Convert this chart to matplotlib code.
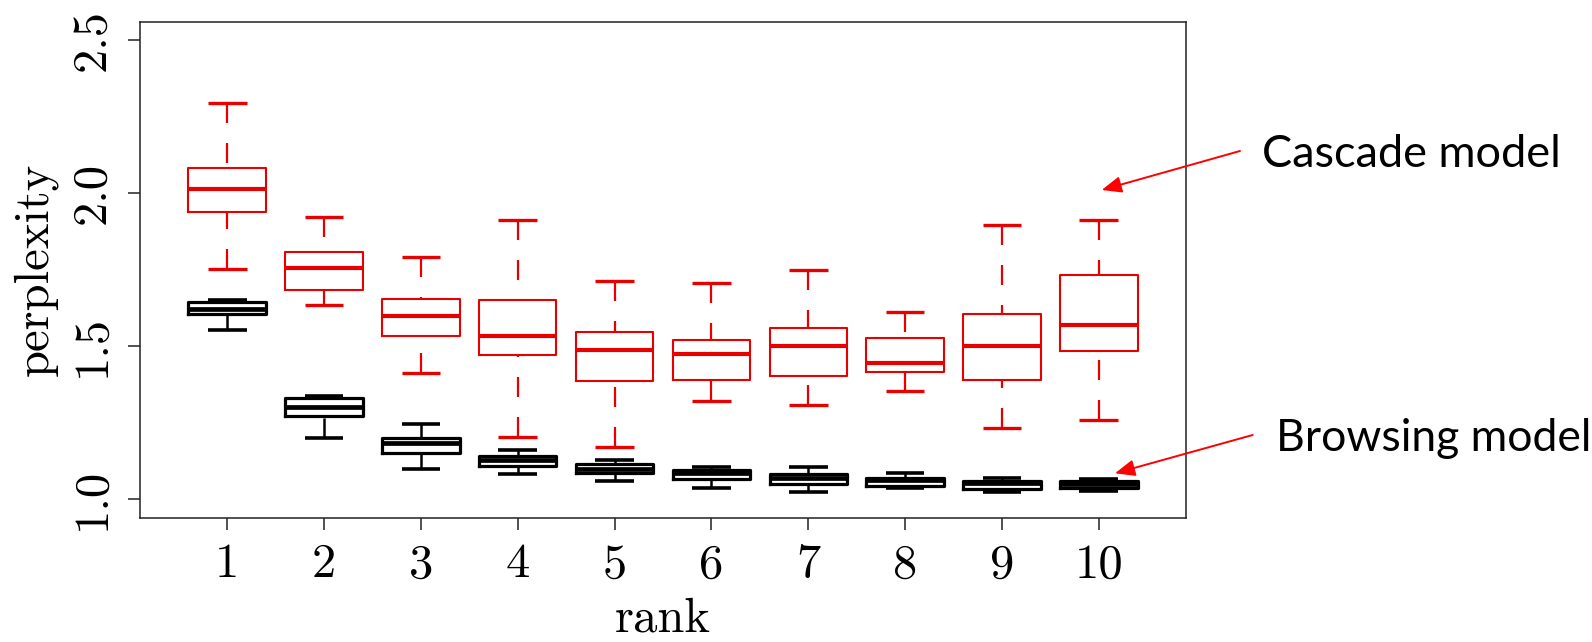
import matplotlib
matplotlib.use('Agg')
import matplotlib.pyplot as plt
from matplotlib.patches import FancyArrowPatch

plt.rcParams['lines.scale_dashes'] = False

ranks = [1, 2, 3, 4, 5, 6, 7, 8, 9, 10]
rank_labels = ['1', '2', '3', '4', '5', '6', '7', '8', '9', '10']
y_ticks = [1.0, 1.5, 2.0, 2.5]
y_tick_labels = ['1.0', '1.5', '2.0', '2.5']

# Cascade model (red boxes)
casc_whislo = [1.752, 1.636, 1.413, 1.204, 1.171, 1.322, 1.308, 1.352, 1.231, 1.259]
casc_q1 = [1.937, 1.682, 1.534, 1.470, 1.387, 1.390, 1.401, 1.417, 1.390, 1.485]
casc_med = [2.012, 1.754, 1.597, 1.534, 1.489, 1.473, 1.501, 1.445, 1.499, 1.569]
casc_q3 = [2.083, 1.808, 1.653, 1.652, 1.547, 1.521, 1.559, 1.527, 1.606, 1.732]
casc_whishi = [2.294, 1.921, 1.790, 1.911, 1.713, 1.708, 1.748, 1.613, 1.897, 1.911]

# Browsing model (black boxes)
brow_whislo = [1.552, 1.201, 1.098, 1.083, 1.059, 1.038, 1.024, 1.035, 1.024, 1.026]
brow_q1 = [1.606, 1.272, 1.152, 1.109, 1.086, 1.066, 1.051, 1.043, 1.033, 1.038]
brow_med = [1.622, 1.302, 1.185, 1.128, 1.100, 1.084, 1.068, 1.062, 1.053, 1.049]
brow_q3 = [1.644, 1.332, 1.199, 1.142, 1.114, 1.095, 1.081, 1.068, 1.060, 1.058]
brow_whishi = [1.651, 1.337, 1.244, 1.160, 1.128, 1.106, 1.104, 1.084, 1.070, 1.066]

W, H, DPI = 1592, 642, 100
fig = plt.figure(figsize=(W / DPI, H / DPI), dpi=DPI)
ax = fig.add_axes([140 / W, (H - 517.5) / H, (1186 - 140) / W, (517.5 - 21.8) / H])


def make_stats(lo, q1, med, q3, hi):
    return [dict(whislo=a, q1=b, med=c, q3=d, whishi=e, fliers=[])
            for a, b, c, d, e in zip(lo, q1, med, q3, hi)]


def draw(stats, color, box_lw, med_lw, whisk_lw, cap_lw):
    res = ax.bxp(stats, positions=ranks, widths=0.8, showfliers=False,
                 boxprops=dict(color=color, lw=box_lw),
                 medianprops=dict(color=color, lw=med_lw, solid_capstyle='butt'),
                 whiskerprops=dict(color=color, lw=whisk_lw, linestyle=(0, (14.4, 14.4))),
                 capprops=dict(color=color, lw=cap_lw, solid_capstyle='butt'),
                 manage_ticks=False)
    for wl in res['whiskers']:
        x, y = wl.get_data()
        wl.set_data(list(x)[::-1], list(y)[::-1])
    return res


red = '#E80000'
draw(make_stats(casc_whislo, casc_q1, casc_med, casc_q3, casc_whishi), red, 1.5, 3.0, 1.6, 2.4)
draw(make_stats(brow_whislo, brow_q1, brow_med, brow_q3, brow_whishi), 'black', 2.3, 3.4, 1.8, 2.6)

ax.set_xlim(0.1, 10.9)
ax.set_ylim(0.94, 2.56)

cm = 'cmr10'
ax.set_xticks(ranks)
ax.set_xticklabels(rank_labels, fontfamily=cm, fontsize=35)
ax.set_yticks(y_ticks)
ax.set_yticklabels(y_tick_labels, fontfamily=cm, fontsize=35, rotation=90, va='center')
ax.tick_params(axis='both', direction='out', length=8.4, width=1.1, color='#222222')
ax.tick_params(axis='x', pad=10)
ax.tick_params(axis='y', pad=10)
for s in ax.spines.values():
    s.set_linewidth(1.1)
    s.set_color('#222222')

ax.set_xlabel('rank', fontfamily=cm, fontsize=35, labelpad=7)
ax.set_ylabel('perplexity', fontfamily=cm, fontsize=35, labelpad=9)

# annotations
fig.text(1261.7 / W, (H - 167.3) / H, 'Cascade model', fontfamily='Lato',
         fontsize=32.5, ha='left', va='baseline')
fig.text(1276 / W, (H - 451) / H, 'Browsing model', fontfamily='Lato',
         fontsize=32, ha='left', va='baseline')

for (x0, y0), (x1, y1) in [((1240, 151), (1101.7, 190)), ((1252.7, 435), (1115, 473.3))]:
    arr = FancyArrowPatch((x0 / W, (H - y0) / H), (x1 / W, (H - y1) / H),
                          transform=fig.transFigure,
                          arrowstyle='-|>,head_length=1.2,head_width=0.5',
                          mutation_scale=10, color='red', lw=1.4,
                          shrinkA=0, shrinkB=0)
    fig.add_artist(arr)

fig.savefig('out.png', dpi=DPI)
